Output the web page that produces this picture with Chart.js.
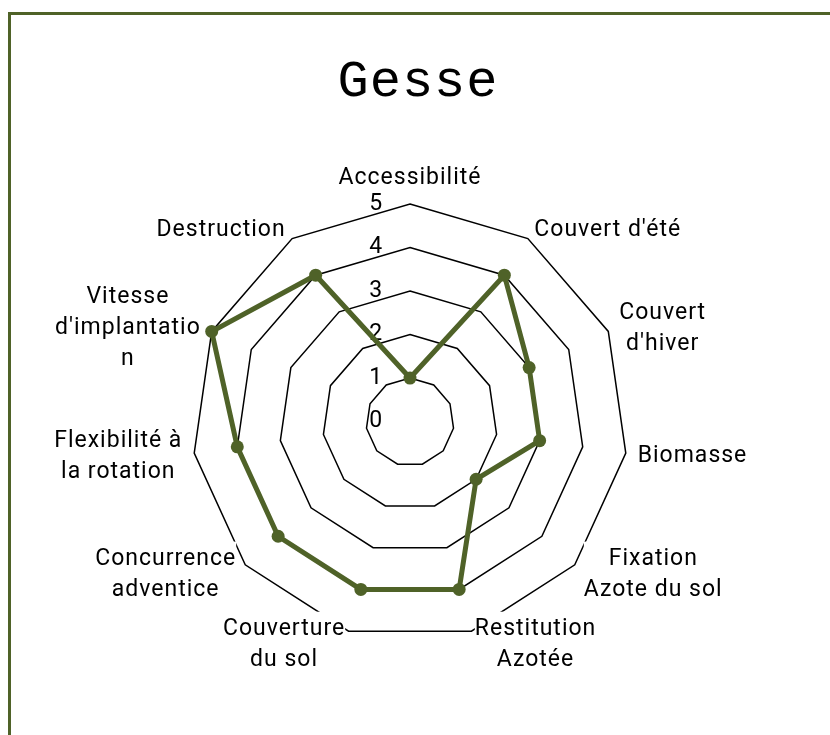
<!DOCTYPE html>
<html>
<head>
<meta charset="utf-8">
<script src="https://cdn.jsdelivr.net/npm/chart.js@4/dist/chart.umd.min.js"></script>
<style>
  html, body { margin: 0; padding: 0; background: #ffffff; overflow: hidden; width: 830px; height: 735px; }
  #frame { position: absolute; left: 8px; top: 12px; width: 900px; height: 900px; border: 3px solid #4f6228; box-sizing: border-box; }
  #c { position: absolute; left: 0; top: 0; }
</style>
</head>
<body>
<div id="frame"></div>
<canvas id="c" width="830" height="735"></canvas>
<script>
const chartTitle = "Gesse";
const categories = [
  ["Accessibilité"],
  ["Couvert d'été"],
  ["Couvert", "d'hiver"],
  ["Biomasse"],
  ["Fixation", "Azote du sol"],
  ["Restitution", "Azotée"],
  ["Couverture", "du sol"],
  ["Concurrence", "adventice"],
  ["Flexibilité à", "la rotation"],
  ["Vitesse", "d'implantatio", "n"],
  ["Destruction"]
];
const seriesValues = [1, 4, 3, 3, 2, 4, 4, 4, 4, 5, 4];
const tickLabels = ["0", "1", "2", "3", "4", "5"];

const olive = "#4f6228";
const textFont = "Roboto";
const labelFontSize = 23;
const labelLineHeight = 31;
const labelGap = 12;
const labelTextDrop = 2;

// Excel-style category labels: placed beside each spoke end, vertically centred.
const excelPointLabels = {
  id: "excelPointLabels",
  beforeLayout(chart) { chart.ctx.letterSpacing = "1px"; },
  afterLayout(chart) {
    const t = chart.titleBlock;
    if (t) { t.left += 8; t.right += 8; }
  },
  beforeDraw(chart) { chart.ctx.letterSpacing = "1px"; },
  beforeDatasetsDraw(chart) {
    const scale = chart.scales.r;
    const ctx = chart.ctx;
    ctx.save();
    ctx.font = labelFontSize + "px " + textFont;
    ctx.letterSpacing = "1px";
    const labels = chart.data.labels;
    labels.forEach((lines, i) => {
      const p = scale.getPointPosition(i, scale.drawingArea + labelGap);
      const deg = (scale.getIndexAngle(i) * 180 / Math.PI + 360) % 360;
      const widths = lines.map(l => ctx.measureText(l).width);
      const w = Math.max(...widths);
      const h = lines.length * labelLineHeight;
      let left;
      if (deg < 1 || Math.abs(deg - 180) < 1) left = p.x - w / 2;
      else if (deg < 180) left = p.x;
      else left = p.x - w;
      const top = deg < 1 ? p.y - h : p.y - h / 2;
      ctx.fillStyle = "#ffffff";
      ctx.fillRect(left, top, w, h);
      ctx.fillStyle = "#000000";
      ctx.textAlign = "center";
      ctx.textBaseline = "middle";
      lines.forEach((l, k) => ctx.fillText(l, left + w / 2, top + labelLineHeight * (k + 0.5) + labelTextDrop));
    });
    ctx.restore();
  }
};

new Chart(document.getElementById("c"), {
  type: "radar",
  data: {
    labels: categories,
    datasets: [{
      label: chartTitle,
      data: seriesValues,
      borderColor: olive,
      backgroundColor: "rgba(0,0,0,0)",
      borderWidth: 5,
      fill: false,
      pointRadius: 6.5,
      pointBackgroundColor: olive,
      pointBorderColor: olive,
      pointBorderWidth: 0,
      tension: 0
    }]
  },
  plugins: [excelPointLabels],
  options: {
    responsive: false,
    animation: false,
    devicePixelRatio: 1,
    layout: { padding: { left: 100, right: 110, top: 0, bottom: 81 } },
    plugins: {
      legend: { display: false },
      tooltip: { enabled: false },
      title: {
        display: true,
        text: chartTitle,
        color: "#000000",
        font: { family: "Liberation Mono", size: 52, weight: "normal" },
        padding: { top: 51, bottom: 76.6 }
      }
    },
    scales: {
      r: {
        min: -0.01,
        max: 5,
        afterBuildTicks: (axis) => {
          axis.ticks = [{ value: -0.01 }].concat(tickLabels.map(t => ({ value: Number(t) })));
        },
        ticks: {
          stepSize: 1,
          color: "#000000",
          font: { family: textFont, size: 23 },
          showLabelBackdrop: false,
          callback: (v) => (v < 0 ? "" : tickLabels[Math.round(v)] + "\u2003\u2003\u2002\u2009")
        },
        grid: {
          color: (ctx) => (ctx.tick && ctx.tick.value <= 0 ? "rgba(0,0,0,0)" : "#000000"),
          lineWidth: 1.5
        },
        angleLines: { display: false },
        pointLabels: { display: false }
      }
    }
  }
});
</script>
</body>
</html>
